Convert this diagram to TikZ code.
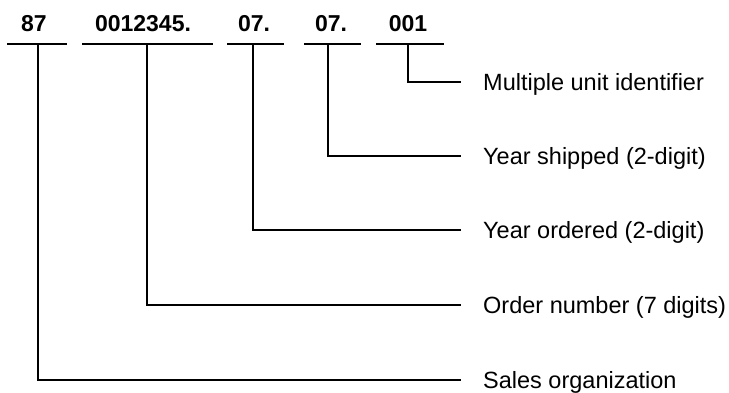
\documentclass[tikz,border=0pt]{standalone}
\usepackage{fontspec}
\setmainfont{Liberation Sans}
\begin{document}
\begin{tikzpicture}[x=1pt,y=-1pt,
  rule/.style={line width=2.6pt},
  num/.style={font=\bfseries\fontsize{23}{23}\selectfont, anchor=base, inner sep=0pt},
  lab/.style={font=\fontsize{23.5}{24}\selectfont, anchor=base west, inner sep=0pt}]
\useasboundingbox (0,0) rectangle (729,392);
% field values
\node[num] (n87) at (34,31) {87};
\node[num] (nord) at (143,31) {0012345.};
\node[num] (nyo) at (254,31) {07.};
\node[num] (nys) at (331,31) {07.};
\node[num] (nmu) at (408,31) {001};
% underlines
\coordinate (a87) at (7,44);   \coordinate (b87) at (67,44);
\coordinate (aord) at (82,44); \coordinate (bord) at (213,44);
\coordinate (ayo) at (227,44); \coordinate (byo) at (284,44);
\coordinate (ays) at (304,44); \coordinate (bys) at (361,44);
\coordinate (amu) at (376,44); \coordinate (bmu) at (444,44);
\foreach \f in {87,ord,yo,ys,mu} \draw[rule] (a\f) -- (b\f);
% descriptions
\node[lab] (lmu) at (483,90.5) {Multiple unit identifier};
\node[lab] (lys) at (483,164.5) {Year shipped (2-digit)};
\node[lab] (lyo) at (483,238.5) {Year ordered (2-digit)};
\node[lab] (lord) at (483,313.5) {Order number (7 digits)};
\node[lab] (l87) at (483,388.5) {Sales organization};
% connector points
\coordinate (s87) at (38,44);   \coordinate (e87) at (461,380);
\coordinate (sord) at (147,44); \coordinate (eord) at (461,305);
\coordinate (syo) at (253,44);  \coordinate (eyo) at (461,230);
\coordinate (sys) at (328,44);  \coordinate (eys) at (461,156);
\coordinate (smu) at (408,44);  \coordinate (emu) at (461,82);
\foreach \f in {87,ord,yo,ys,mu} \draw[rule] (s\f) |- (e\f);
\end{tikzpicture}
\end{document}
